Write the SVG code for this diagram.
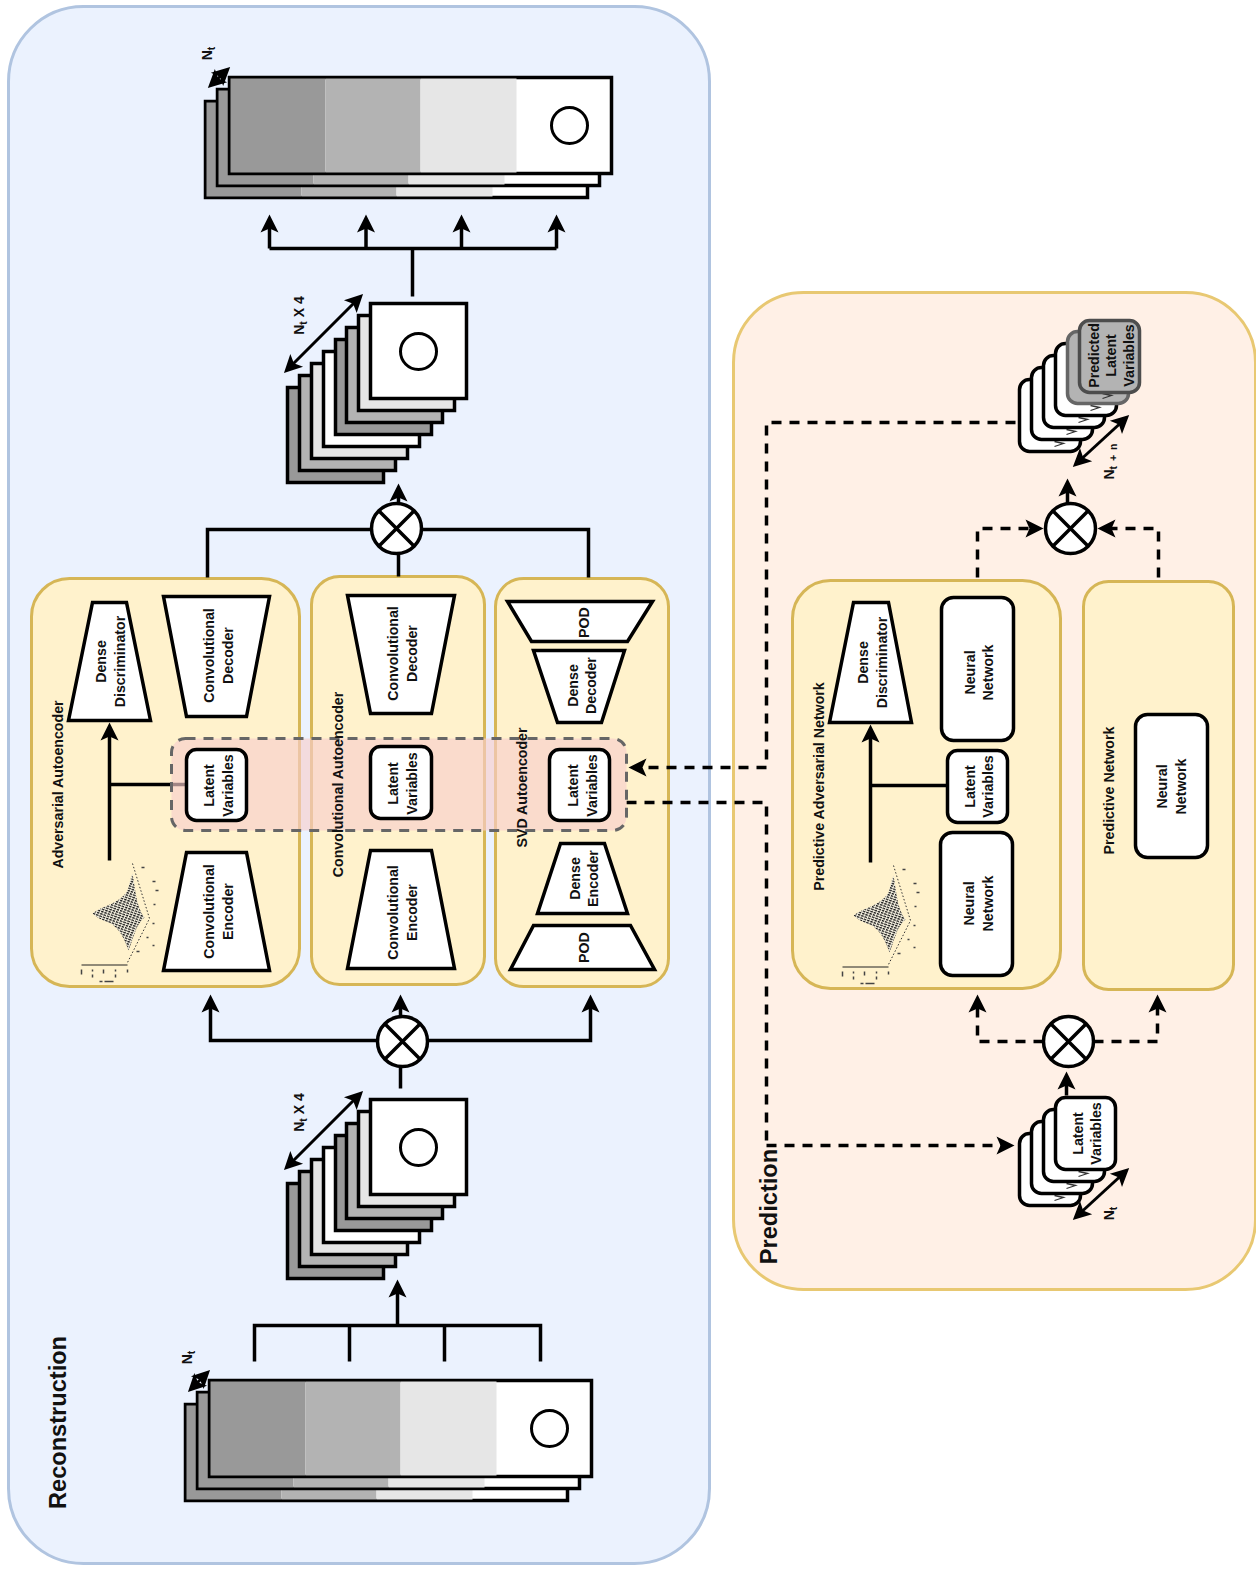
<svg xmlns="http://www.w3.org/2000/svg" width="1256" height="1569" viewBox="0 0 1256 1569">
<style>
text{font-family:"Liberation Sans",Arial,sans-serif;font-weight:bold;font-size:14.2px;fill:#111;text-anchor:middle}
.big{font-size:23.6px}
.sm{font-size:14px}
.sub{font-size:10.500px;word-spacing:2px}
.box{fill:#fff2cc;stroke:#d6b656;stroke-width:3}
.w{fill:#fff;stroke:#000;stroke-width:3.5;stroke-linejoin:miter}
.r{fill:#fff;stroke:#000;stroke-width:3.5}
.c{fill:none;stroke:#000;stroke-width:3.5}
.d{fill:none;stroke:#000;stroke-width:3.5;stroke-dasharray:10 8}
.a{marker-end:url(#ah)}
.aa{marker-start:url(#ah2);marker-end:url(#ah2);fill:none;stroke:#000;stroke-width:3}
.v{fill:none;stroke:#333;stroke-width:1.300}
</style>
<defs>
<marker id="ah" markerUnits="userSpaceOnUse" markerWidth="30" markerHeight="24" viewBox="-20 -12 30 24" refX="0" refY="0" orient="auto"><path d="M5,0 L-13,-9 L-9,0 L-13,9Z" fill="#000"/></marker>
<marker id="ah2" markerUnits="userSpaceOnUse" markerWidth="30" markerHeight="24" viewBox="-20 -12 30 24" refX="0" refY="0" orient="auto-start-reverse"><path d="M5,0 L-13,-9 L-9,0 L-13,9Z" fill="#000"/></marker>
<pattern id="hat" patternUnits="userSpaceOnUse" width="3.500" height="2.400" patternTransform="rotate(20)"><rect width="3.500" height="2.400" fill="#f4f0e0"/><rect width="2.600" height="1.300" fill="#1c1c1c"/></pattern>
<g id="strip">
<rect x="0" y="0" width="382" height="96" class="w"/>
<rect x="1" y="1" width="95" height="94" fill="#999"/>
<rect x="96" y="1" width="95" height="94" fill="#b3b3b3"/>
<rect x="191" y="1" width="96" height="94" fill="#e6e6e6"/>
</g>
<g id="sq"><rect x="0" y="0" width="96" height="95" stroke="#000" stroke-width="3.5"/></g>
<g id="cross"><circle cx="0" cy="0" r="25" fill="#fff" stroke="#000" stroke-width="3.5"/><path d="M-17.7,-17.7 L17.7,17.7 M-17.7,17.7 L17.7,-17.7" stroke="#000" stroke-width="3.5"/></g>
<g id="stack8">
<use href="#sq" x="-83" y="84" fill="#999"/>
<use href="#sq" x="-71" y="72" fill="#b3b3b3"/>
<use href="#sq" x="-59" y="60" fill="#e6e6e6"/>
<use href="#sq" x="-47" y="48" fill="#fff"/>
<use href="#sq" x="-35" y="36" fill="#999"/>
<use href="#sq" x="-24" y="24" fill="#b3b3b3"/>
<use href="#sq" x="-12" y="12" fill="#e6e6e6"/>
<use href="#sq" x="0" y="0" fill="#fff"/>
<circle cx="48" cy="48" r="18" fill="none" stroke="#000" stroke-width="3"/>
</g>
<g id="plot">
<path d="M92,913 C104,904 118,904 127,890 C129,883 130,878 132,873 C135,890 136,907 144,917 C135,924 133,938 128,950 C124,938 118,926 108,922 C102,920 96,917 92,913Z" fill="url(#hat)"/>
<path d="M132,863 L149,918 L127,962" fill="none" stroke="#333" stroke-width="1" stroke-dasharray="1.5 2"/>
<path d="M81,964.500 H127" stroke="#222" stroke-width="1"/>
<path d="M81,969 v5 M92,969 v2 M92,974 v3 M103,969 v4 M115,969 v2 M115,974 v3 M127,969 v3 M99,981 h3 M104,981 h9 M141,867 h3 M152,881 h3 M155,890 h3 M153,904 h2 M152,923 h2 M146,937 h2 M152,945 h2 M136,951 h3" stroke="#444" stroke-width="1.500" fill="none"/>
</g>
</defs>
<g transform="translate(0.5,0.5)">
<g id="panel-reconstruction">
<rect x="8" y="6" width="701" height="1557" rx="75" fill="#ebf2fe" stroke="#b0c4e0" stroke-width="3"/>
<text class="big" transform="translate(65,1422) rotate(-90)">Reconstruction</text>
</g>
<g id="panel-prediction">
<rect x="733" y="292" width="522" height="997" rx="70" fill="#fff0e6" stroke="#e8c872" stroke-width="3"/>
</g>

<g id="box-adversarial"><rect x="31" y="578" width="268" height="408" rx="38" class="box"/></g>
<g id="box-convolutional"><rect x="311" y="576" width="173" height="408" rx="28" class="box"/></g>
<g id="box-svd"><rect x="495" y="578" width="173" height="408" rx="28" class="box"/></g>
<g id="box-predictive-adversarial"><rect x="792" y="580" width="268" height="408" rx="38" class="box"/></g>
<g id="box-predictive"><rect x="1083" y="581" width="150" height="408" rx="25" class="box"/></g>

<g id="connectors">
<path class="c" d="M412,296 V248 M269,248 H556"/>
<path class="c a" d="M269,248 V219"/>
<path class="c a" d="M365.500,248 V219"/>
<path class="c a" d="M461,248 V219"/>
<path class="c a" d="M556,248 V219"/>
<path class="aa" d="M287,369 L359,297"/>
<path class="c" d="M207,577 V529 H371 M421,529 H588 V577 M398,576 V553"/>
<path class="c a" d="M398,503 V488"/>
<path class="c a" d="M377,1040 H210 V999"/>
<path class="c a" d="M427,1040 H590 V999"/>
<path class="c a" d="M400,1016 V999"/>
<path class="c" d="M400,1088 V1066"/>
<path class="aa" d="M287,1166 L359,1094"/>
<path class="c" d="M254,1361 V1325 H540 V1361 M349,1325 V1361 M444,1325 V1361"/>
<path class="c a" d="M397,1325 V1284"/>
<path class="aa" d="M211,84 L226,70"/>
<path class="aa" d="M191,1388 L206,1373"/>
<path class="c a" d="M109,860 V727"/>
<path class="c" d="M109,784 H186"/>
<path class="c a" d="M870,862 V729"/>
<path class="c" d="M870,785 H947"/>
<path class="d" d="M1015,422 H766 V767"/>
<path class="d a" d="M766,767 H633"/>
<path class="d" d="M626,802 H766 V1145"/>
<path class="d a" d="M766,1145 H1009"/>
<path class="d a" d="M977,577 V528 H1038"/>
<path class="d a" d="M1158,577 V528 H1102"/>
<path class="c a" d="M1067,503 V483"/>
<path class="d a" d="M1043,1041 H977 V999"/>
<path class="d a" d="M1093,1041 H1157 V999"/>
<path class="c a" d="M1066,1095 V1076"/>
<path class="aa" d="M1076,463 L1125,418"/>
<path class="aa" d="M1076,1216 L1125,1171"/>
</g>

<g id="stack-top">
<use href="#strip" x="205" y="101"/>
<use href="#strip" x="217" y="89"/>
<use href="#strip" x="229" y="77"/>
<circle cx="569" cy="125" r="18" fill="none" stroke="#000" stroke-width="3"/>
<text class="sm" transform="translate(211,53) rotate(-90)">N<tspan class="sub" dy="3">t</tspan></text>
</g>
<g id="stack-bottom">
<use href="#strip" x="185" y="1404"/>
<use href="#strip" x="197" y="1392"/>
<use href="#strip" x="209" y="1380"/>
<circle cx="549" cy="1428" r="18" fill="none" stroke="#000" stroke-width="3"/>
<text class="sm" transform="translate(191,1357) rotate(-90)">N<tspan class="sub" dy="3">t</tspan></text>
</g>
<g id="stack-output"><use href="#stack8" x="370" y="303"/>
<text class="sm" transform="translate(303,315) rotate(-90)">N<tspan class="sub" dy="3">t</tspan><tspan dy="-3"> X 4</tspan></text></g>
<g id="stack-input"><use href="#stack8" x="370" y="1099"/>
<text class="sm" transform="translate(303,1112) rotate(-90)">N<tspan class="sub" dy="3">t</tspan><tspan dy="-3"> X 4</tspan></text></g>
<g id="cross-top"><use href="#cross" x="396" y="528"/></g>
<g id="cross-bottom"><use href="#cross" x="402" y="1041"/></g>
<g id="cross-pred-top"><use href="#cross" x="1070" y="528"/></g>
<g id="cross-pred-bottom"><use href="#cross" x="1068" y="1041"/></g>

<g id="aa-discriminator"><polygon class="w" points="92,602 126,602 150,720 68,720"/>
<text transform="translate(105.500,661) rotate(-90)">Dense<tspan x="0" dy="18.500">Discriminator</tspan></text></g>
<g id="aa-decoder"><polygon class="w" points="163,596 269,596 246,716 186,716"/>
<text transform="translate(213,655) rotate(-90)">Convolutional<tspan x="0" dy="19">Decoder</tspan></text></g>
<g id="aa-encoder"><polygon class="w" points="186,852 246,852 269,970 163,970"/>
<text transform="translate(213,911) rotate(-90)">Convolutional<tspan x="0" dy="19">Encoder</tspan></text></g>
<g id="aa-plot"><use href="#plot"/></g>
<g id="ca-decoder"><polygon class="w" points="347,595 454,595 431,713 370,713"/>
<text transform="translate(397,653) rotate(-90)">Convolutional<tspan x="0" dy="19">Decoder</tspan></text></g>
<g id="ca-encoder"><polygon class="w" points="370,850 431,850 454,968 347,968"/>
<text transform="translate(397,912) rotate(-90)">Convolutional<tspan x="0" dy="19">Encoder</tspan></text></g>
<g id="svd-pod-top"><polygon class="w" points="507,601 652,601 627,641 531,641"/>
<text transform="translate(588,622) rotate(-90)">POD</text></g>
<g id="svd-decoder"><polygon class="w" points="533,650 624,650 601,722 557,722"/>
<text transform="translate(577,685) rotate(-90)">Dense<tspan x="0" dy="18">Decoder</tspan></text></g>
<g id="svd-encoder"><polygon class="w" points="560,843 604,843 627,913 537,913"/>
<text transform="translate(579,878) rotate(-90)">Dense<tspan x="0" dy="18">Encoder</tspan></text></g>
<g id="svd-pod-bottom"><polygon class="w" points="533,925 630,925 654,969 510,969"/>
<text transform="translate(588,947) rotate(-90)">POD</text></g>

<g id="latent-band"><rect x="171" y="738" width="455" height="92" rx="14" fill="#f8cecc" fill-opacity="0.65" stroke="#666" stroke-width="3" stroke-dasharray="10 8"/></g>

<g id="aa-latent"><rect x="186" y="749" width="60" height="71" rx="10" class="r"/>
<text transform="translate(213,785) rotate(-90)">Latent<tspan x="0" dy="19">Variables</tspan></text></g>
<g id="ca-latent"><rect x="370" y="746" width="61" height="72" rx="10" class="r"/>
<text transform="translate(397,783) rotate(-90)">Latent<tspan x="0" dy="19">Variables</tspan></text></g>
<g id="svd-latent"><rect x="549" y="749" width="60" height="71" rx="10" class="r"/>
<text transform="translate(577,785) rotate(-90)">Latent<tspan x="0" dy="19">Variables</tspan></text></g>
<g id="aa-label"><text transform="translate(62,784) rotate(-90)">Adversarial Autoencoder</text></g>
<g id="ca-label"><text transform="translate(342,784) rotate(-90)">Convolutional Autoencoder</text></g>
<g id="svd-label"><text transform="translate(526,787) rotate(-90)">SVD Autoencoder</text></g>

<g id="pan-discriminator"><polygon class="w" points="853,602 888,602 911,722 829,722"/>
<text transform="translate(867,662) rotate(-90)">Dense<tspan x="0" dy="19">Discriminator</tspan></text></g>
<g id="pan-nn-top"><rect x="941" y="597" width="72" height="143" rx="12" class="r"/>
<text transform="translate(974,672) rotate(-90)">Neural<tspan x="0" dy="18">Network</tspan></text></g>
<g id="pan-latent"><rect x="947" y="750" width="60" height="72" rx="10" class="r"/>
<text transform="translate(974,786) rotate(-90)">Latent<tspan x="0" dy="18">Variables</tspan></text></g>
<g id="pan-nn-bottom"><rect x="940" y="832" width="72" height="143" rx="12" class="r"/>
<text transform="translate(973,903) rotate(-90)">Neural<tspan x="0" dy="19">Network</tspan></text></g>
<g id="pan-plot"><use href="#plot" x="761" y="2"/></g>
<g id="pan-label"><text transform="translate(823,786) rotate(-90)">Predictive Adversarial Network</text></g>
<g id="pn-nn"><rect x="1135" y="714" width="72" height="143" rx="12" class="r"/>
<text transform="translate(1166,786) rotate(-90)">Neural<tspan x="0" dy="19">Network</tspan></text></g>
<g id="pn-label"><text transform="translate(1113,790) rotate(-90)">Predictive Network</text></g>

<g id="stack-predicted">
<rect x="1019" y="379" width="61" height="72" rx="10" class="r"/><path d="M1054,441 l9,2 l-9,3" class="v"/>
<rect x="1031" y="367" width="61" height="72" rx="10" class="r"/><path d="M1066,429 l9,2 l-9,3" class="v"/>
<rect x="1043" y="355" width="61" height="72" rx="10" class="r"/><path d="M1078,417 l9,2 l-9,3" class="v"/>
<rect x="1055" y="343" width="61" height="72" rx="10" class="r"/><path d="M1090,405 l9,2 l-9,3" class="v"/>
<rect x="1067" y="331" width="61" height="72" rx="10" fill="#b3b3b3" stroke="#666" stroke-width="3.500"/><path d="M1102,393 l9,2 l-9,3" class="v"/>
<rect x="1079" y="320" width="60" height="72" rx="10" fill="#b3b3b3" stroke="#4d4d4d" stroke-width="3.500"/>
<text transform="translate(1098,355) rotate(-90)">Predicted<tspan x="0" dy="17.500">Latent</tspan><tspan x="0" dy="17.500">Variables</tspan></text>
<text class="sm" transform="translate(1113,461) rotate(-90)">N<tspan class="sub" dy="3">t + n</tspan></text>
</g>
<g id="stack-latent">
<rect x="1019" y="1133" width="61" height="72" rx="10" class="r"/><path d="M1054,1195 l9,2 l-9,3" class="v"/>
<rect x="1031" y="1121" width="61" height="72" rx="10" class="r"/><path d="M1066,1183 l9,2 l-9,3" class="v"/>
<rect x="1043" y="1109" width="61" height="72" rx="10" class="r"/><path d="M1078,1171 l9,2 l-9,3" class="v"/>
<rect x="1055" y="1097" width="60" height="72" rx="10" class="r"/>
<text transform="translate(1082,1133) rotate(-90)">Latent<tspan x="0" dy="18.500">Variables</tspan></text>
<text class="sm" transform="translate(1113,1213) rotate(-90)">N<tspan class="sub" dy="3">t</tspan></text>
</g>
<g id="prediction-label"><text class="big" transform="translate(776,1206) rotate(-90)">Prediction</text></g>
</g>
</svg>
